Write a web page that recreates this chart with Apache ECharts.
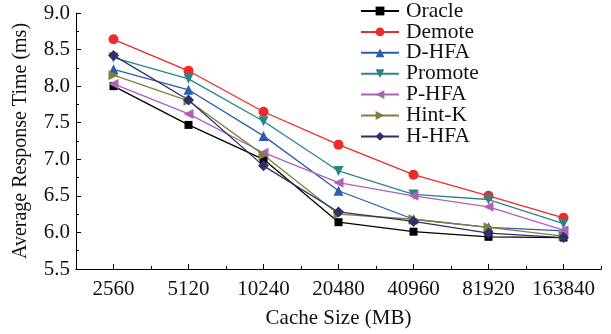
<!DOCTYPE html>
<html><head><meta charset="utf-8">
<script src="https://cdn.jsdelivr.net/npm/echarts@6/dist/echarts.min.js"></script>
<style>html,body{margin:0;padding:0;background:#fff}#c{width:611px;height:334px}</style>
</head><body><div id="c"></div>
<script>
var categories = ['2560','5120','10240','20480','40960','81920','163840'];
var seriesNames = ['Oracle','Demote','D-HFA','Promote','P-HFA','Hint-K','H-HFA'];
var oracle  = [8.00, 7.47, 7.00, 6.14, 6.01, 5.94, 5.93];
var demote  = [8.64, 8.21, 7.65, 7.20, 6.79, 6.50, 6.20];
var dhfa    = [8.23, 7.95, 7.32, 6.57, 6.18, 6.07, 6.02];
var promote = [8.39, 8.10, 7.52, 6.84, 6.52, 6.45, 6.12];
var phfa    = [8.03, 7.62, 7.09, 6.68, 6.50, 6.35, 6.03];
var hintk   = [8.15, 7.80, 7.06, 6.25, 6.18, 6.07, 5.95];
var hhfa    = [8.42, 7.81, 6.91, 6.28, 6.15, 5.99, 5.93];
var yTicks = [5.5, 6.0, 6.5, 7.0, 7.5, 8.0, 8.5, 9.0];

var values = [oracle, demote, dhfa, promote, phfa, hintk, hhfa];
var colors = ['#000000','#ee2b2b','#2a5db0','#2a8585','#b060b8','#80803c','#2f2f6a'];
var symbols = ['rect','circle','triangle',
  'path://M0,0 L10,0 L5,9 Z',
  'path://M9,0 L9,10 L0,5 Z',
  'path://M0,0 L9,5 L0,10 Z',
  'diamond'];
var sizes = [8, 10, 10, 10, 10, 10, 11];
var font = 'Liberation Serif';

var chart = echarts.init(document.getElementById('c'), null, {renderer:'canvas'});
var series = seriesNames.map(function(n, i){
  return {
    name: n, type: 'line', data: values[i], xAxisIndex: 0,
    symbol: symbols[i], symbolSize: sizes[i], showSymbol: true,
    itemStyle: {color: colors[i]},
    lineStyle: {color: colors[i], width: 1.3},
    animation: false
  };
});
chart.setOption({
  animation: false,
  grid: {left: 76, right: 10, top: 13, bottom: 63},
  legend: {
    orient: 'vertical', left: 360, top: 0, padding: 0,
    itemWidth: 38, itemHeight: 11, itemGap: -1.1,
    data: seriesNames,
    textStyle: {fontFamily: font, fontSize: 21.5, color: '#111', lineHeight: 20, padding: [0,0,0,2]}
  },
  xAxis: [{
    type: 'category', data: categories, boundaryGap: true, position: 'bottom',
    name: 'Cache Size (MB)', nameLocation: 'middle', nameGap: 39,
    nameTextStyle: {fontFamily: font, fontSize: 21, color: '#111'},
    axisLine: {show: true, lineStyle: {color: '#000', width: 1}},
    axisTick: {show: true, inside: true, length: 5, alignWithLabel: true, lineStyle: {color: '#000'}},
    axisLabel: {fontFamily: font, fontSize: 21, color: '#111', margin: 10, interval: 0, hideOverlap: false},
    splitLine: {show: false}
  },{
    type: 'category', data: categories, boundaryGap: true, position: 'bottom',
    axisLine: {show: true, lineStyle: {color: '#000', width: 1}},
    axisTick: {show: true, inside: true, length: 3, alignWithLabel: false, interval: 0, lineStyle: {color: '#000'}},
    axisLabel: {show: false, interval: 0},
    splitLine: {show: false}
  }],
  yAxis: {
    type: 'value', min: yTicks[0], max: yTicks[yTicks.length-1], interval: 0.5,
    name: 'Average Response Time (ms)', nameLocation: 'middle', nameGap: 45,
    nameTextStyle: {fontFamily: font, fontSize: 20, color: '#111'},
    axisLine: {show: true, lineStyle: {color: '#000', width: 1}},
    axisTick: {show: true, inside: true, length: 5, lineStyle: {color: '#000'}},
    minorTick: {show: true, splitNumber: 2, length: 3, lineStyle: {color: '#000'}},
    axisLabel: {fontFamily: font, fontSize: 21, color: '#111', margin: 6,
      formatter: function(v){ return v.toFixed(1); }},
    splitLine: {show: false}
  },
  series: series
});
</script></body></html>
